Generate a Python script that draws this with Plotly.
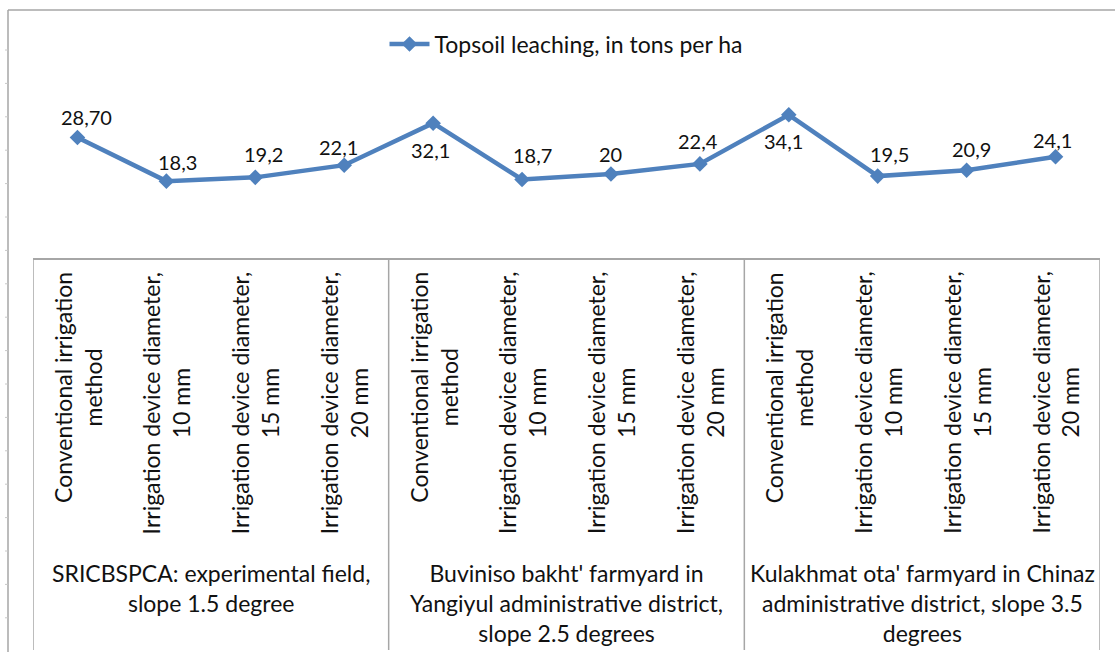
import plotly.graph_objects as go

# ---------------- data ----------------
categories = [
    "Conventional irrigation<br>method",
    "Irrigation device diameter,<br>10 mm",
    "Irrigation device diameter,<br>15 mm",
    "Irrigation device diameter,<br>20 mm",
    "Conventional irrigation<br>method",
    "Irrigation device diameter,<br>10 mm",
    "Irrigation device diameter,<br>15 mm",
    "Irrigation device diameter,<br>20 mm",
    "Conventional irrigation<br>method",
    "Irrigation device diameter,<br>10 mm",
    "Irrigation device diameter,<br>15 mm",
    "Irrigation device diameter,<br>20 mm",
]
groups = [
    "SRICBSPCA: experimental field,<br>slope 1.5 degree",
    "Buviniso bakht' farmyard in<br>Yangiyul administrative district,<br>slope 2.5 degrees",
    "Kulakhmat ota' farmyard in Chinaz<br>administrative district, slope 3.5<br>degrees",
]
topsoil_leaching = [28.70, 18.3, 19.2, 22.1, 32.1, 18.7, 20.0, 22.4, 34.1, 19.5, 20.9, 24.1]
value_labels = ["28,70", "18,3", "19,2", "22,1", "32,1", "18,7", "20", "22,4", "34,1", "19,5", "20,9", "24,1"]
series_name = "Topsoil leaching, in tons per ha"

# ---------------- styling / layout geometry ----------------
# pixel offsets of each data label from its point (style only)
label_dx = [9, 11, 8, -6, -3, 10, 0, -2, -5, 12, 5, -3]
label_dy = [-20, -19, -23, -18, 27, -24, -20, -23, 26, -22, -21, -17]

W, H = 1115, 652
L, R, T, B = 33, 15, 10, 394
PW, PH = W - L - R, H - T - B
FONT = "Lato"
BLUE = "#4f81bd"
GRAY = "#a6a6a6"
TXT = "#111111"


def px(xp):
    return (xp - L) / PW


def py(yp):
    return (H - B - yp) / PH


x_idx = list(range(len(categories)))

fig = go.Figure()
fig.add_trace(go.Scatter(
    x=x_idx, y=topsoil_leaching, mode="lines+markers",
    name=series_name,
    line=dict(color=BLUE, width=4.5),
    marker=dict(symbol="diamond", size=12, color=BLUE),
    cliponaxis=False,
))

shapes = []
# outer frame (top and left edge)
shapes.append(dict(type="line", xref="paper", yref="paper", x0=px(8), x1=px(W), y0=py(10), y1=py(10),
                   line=dict(color=GRAY, width=1.5)))
shapes.append(dict(type="line", xref="paper", yref="paper", x0=px(8), x1=px(8), y0=py(10), y1=py(H),
                   line=dict(color=GRAY, width=1.5)))
for k in range(18):
    yy = 50 + k * 33.4
    shapes.append(dict(type="line", xref="paper", yref="paper", x0=px(5), x1=px(8), y0=py(yy), y1=py(yy),
                       line=dict(color="#c8c8c8", width=1)))
# category table lines
for xb in [-0.5, 3.5, 7.5, 11.5]:
    shapes.append(dict(type="line", xref="x", yref="paper", x0=xb, x1=xb, y0=0, y1=py(650),
                       line=dict(color=GRAY, width=1.5)))

annotations = []
for i, (v, lab) in enumerate(zip(topsoil_leaching, value_labels)):
    annotations.append(dict(x=i, xref="x", y=v, yref="y", text=lab, showarrow=False,
                            xanchor="center", yanchor="middle",
                            xshift=label_dx[i], yshift=-label_dy[i],
                            font=dict(family=FONT, size=20, color=TXT)))
for i, c in enumerate(categories):
    annotations.append(dict(x=i, xref="x", y=py(270), yref="paper", text=c, textangle=-90,
                            xanchor="center", yanchor="top", showarrow=False, align="center",
                            font=dict(family=FONT, size=23, color=TXT)))
for g, gl in enumerate(groups):
    annotations.append(dict(x=g * 4 + 1.5, xref="x", y=py(557), yref="paper", text=gl,
                            xanchor="center", yanchor="top", showarrow=False, align="center",
                            font=dict(family=FONT, size=23, color=TXT)))

fig.update_layout(
    width=W, height=H,
    margin=dict(l=L, r=R, t=T, b=B),
    paper_bgcolor="white", plot_bgcolor="white",
    showlegend=True,
    legend=dict(orientation="h", x=0.5, xanchor="center", y=py(44), yanchor="middle",
                font=dict(family=FONT, size=23, color=TXT), bgcolor="rgba(0,0,0,0)",
                itemwidth=40),
    xaxis=dict(range=[-0.5, 11.5], showgrid=False, zeroline=False, showticklabels=False,
               showline=True, linecolor=GRAY, linewidth=1.5, ticks="", fixedrange=True),
    yaxis=dict(range=[0, PH / 4.2], showgrid=False, zeroline=False, showticklabels=False,
               showline=False, ticks="", fixedrange=True),
    shapes=shapes, annotations=annotations,
)

fig.write_html("out.html", config={"displayModeBar": False},
               post_script="document.body.style.margin='0';document.body.style.overflow='hidden';")
